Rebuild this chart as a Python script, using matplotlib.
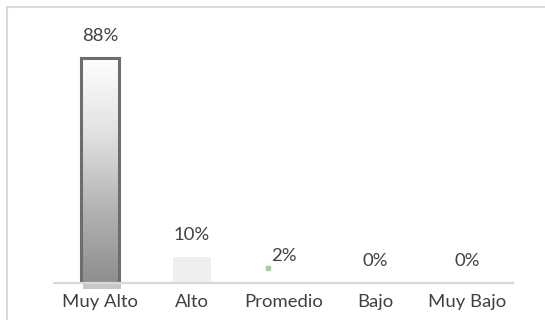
import numpy as np
import matplotlib
matplotlib.use("Agg")
import matplotlib.pyplot as plt
from matplotlib.lines import Line2D
from matplotlib.patches import Rectangle

categories = ["Muy Alto", "Alto", "Promedio", "Bajo", "Muy Bajo"]
values = [88, 10, 2, 0, 0]
labels = ["88%", "10%", "2%", "0%", "0%"]

plt.rcParams['font.family'] = ['Lato', 'DejaVu Sans']
txt_color = '#404040'

fig = plt.figure(figsize=(5.45, 3.2), dpi=100)
ax = fig.add_axes([54 / 545, 37 / 320, 459 / 545, 255.7 / 320])

x = np.arange(len(categories))
bw = 0.41
bars = ax.bar(x, values, width=bw, color=['none', '#efefef', 'none', 'none', 'none'],
              edgecolor='none', zorder=2)

# gradient fill + dark outline on the tallest bar
b0 = bars[0]
grad = np.linspace(0, 1, 256).reshape(-1, 1)
cmap = matplotlib.colors.LinearSegmentedColormap.from_list(
    'g', ['#8e8e8e', '#b4b4b4', '#e2e2e2', '#ffffff'])
x0, w, h = b0.get_x(), b0.get_width(), b0.get_height()
im = ax.imshow(grad, cmap=cmap, origin='lower', aspect='auto',
               extent=[x0, x0 + w, 0, h], zorder=2)
im.set_clip_path(b0)
ax.add_patch(Rectangle((x0, 0), w, h, fill=False, edgecolor='#6d6d6d',
                       linewidth=2.2, zorder=3))
# soft shadow under the bar
ax.add_patch(Rectangle((x0 + 0.02, -2.4), w, 2.4, facecolor='#c8c8c8',
                       edgecolor='none', zorder=1, clip_on=False))

# small green marker near the 2% bar
ax.plot([x[2] - 0.17], [6], marker='s', markersize=3.5, color='#a9d18e',
        linestyle='none', zorder=3)

for xi, v, lab in zip(x, values, labels):
    ax.annotate(lab, (xi, v), xytext=(0, 16), textcoords='offset points',
                ha='center', va='center', fontsize=13.3, color=txt_color)

ax.set_xlim(-0.5, len(categories) - 0.5)
ax.set_ylim(0, 100)
ax.set_xticks(x)
ax.set_xticklabels(categories, fontsize=13.3, color=txt_color)
ax.tick_params(axis='x', length=0, pad=8)
ax.set_yticks([])
for s in ['top', 'right', 'left']:
    ax.spines[s].set_visible(False)
ax.spines['bottom'].set_color('#d9d9d9')
ax.spines['bottom'].set_linewidth(1.6)
ax.spines['bottom'].set_zorder(4)

# chart area frame
fig.add_artist(Line2D([6.5 / 545, 6.5 / 545], [0, 1 - 6.5 / 320],
                      transform=fig.transFigure, color='#d9d9d9', linewidth=1.5))
fig.add_artist(Line2D([6.5 / 545, 1], [1 - 6.5 / 320, 1 - 6.5 / 320],
                      transform=fig.transFigure, color='#d9d9d9', linewidth=1.5))

fig.savefig("out.png", dpi=100, facecolor='white')
